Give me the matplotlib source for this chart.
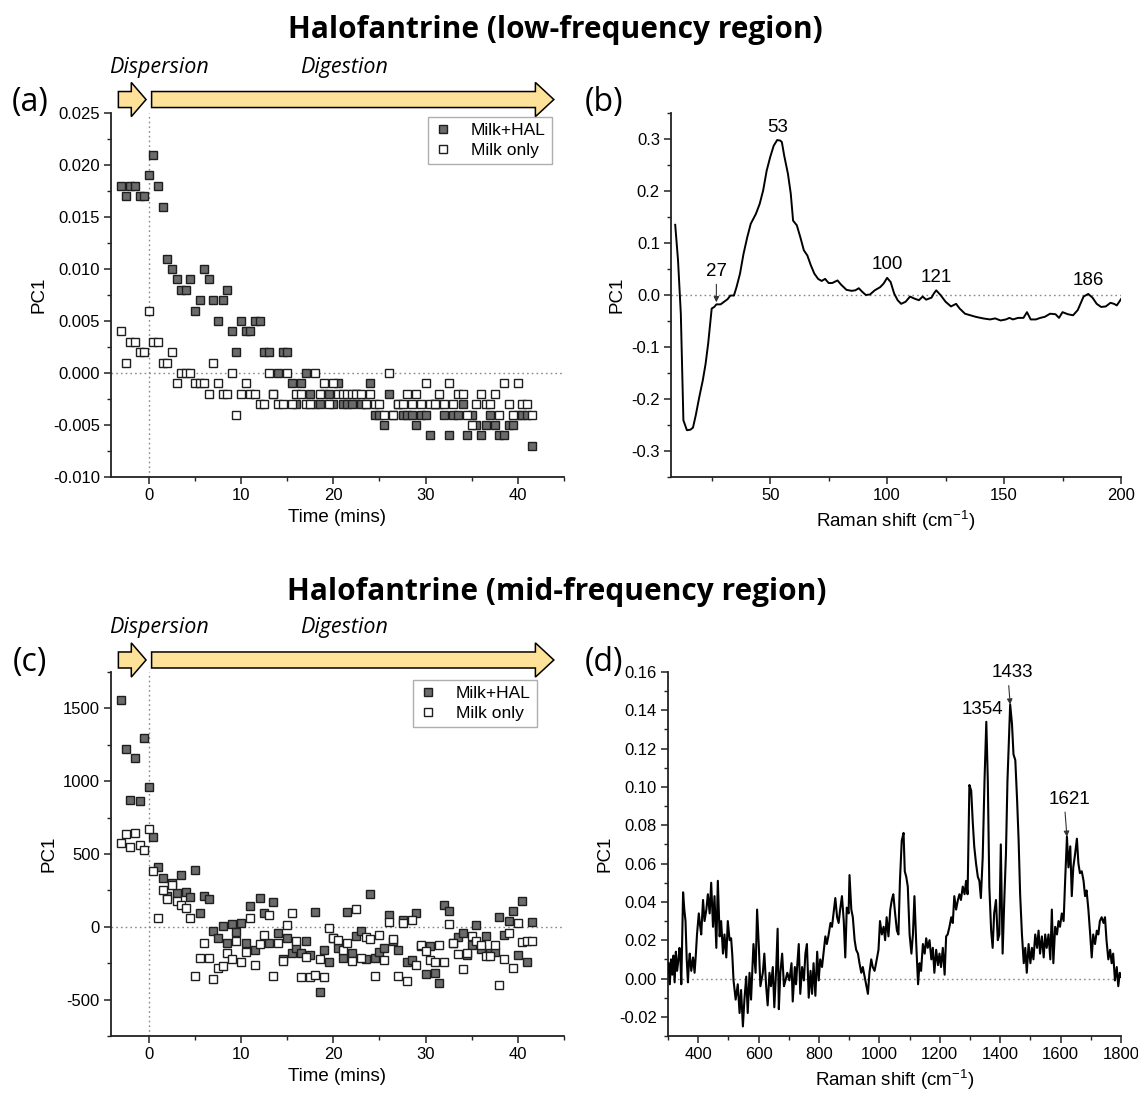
import numpy as np
import matplotlib
matplotlib.use("Agg")
import matplotlib.pyplot as plt
import matplotlib.transforms as mtransforms
from matplotlib.lines import Line2D
from matplotlib.patches import Polygon
from matplotlib.ticker import MultipleLocator, FormatStrFormatter

plt.rcParams['font.family'] = ['Liberation Sans', 'DejaVu Sans']
plt.rcParams['axes.unicode_minus'] = False
plt.rcParams['mathtext.default'] = 'regular'

# ---------------- scores vs time (one scan every 30 s) ----------------
time_min = np.arange(-3, 42, 0.5)

low_hal = [0.018, 0.017, 0.018, 0.018, 0.017, 0.017,
           0.019, 0.021, 0.018, 0.016, 0.011, 0.010, 0.009, 0.008, 0.008, 0.009,
           0.006, 0.007, 0.010, 0.009, 0.007, 0.005, 0.007, 0.008, 0.004, 0.002,
           0.005, 0.004, 0.004, 0.005, 0.005, 0.002, 0.002, -0.002, 0.000, 0.002,
           0.002, -0.001, -0.003, -0.001, 0.000, -0.002, -0.003, -0.003, -0.002, -0.002,
           -0.003, -0.001, -0.003, -0.003, -0.003, -0.002, -0.003, -0.003, -0.001, -0.004,
           -0.004, -0.005, -0.002, -0.004, -0.003, -0.004, -0.004, -0.004, -0.005, -0.004,
           -0.004, -0.006, -0.003, -0.003, -0.004, -0.006, -0.004, -0.004, -0.003, -0.006,
           -0.004, -0.005, -0.006, -0.005, -0.004, -0.005, -0.006, -0.006, -0.005, -0.005,
           -0.004, -0.004, -0.004, -0.007]
low_milk = [0.004, 0.001, 0.003, 0.003, 0.002, 0.002,
            0.006, 0.003, 0.003, 0.001, 0.001, 0.002, -0.001, 0.000, 0.000, 0.000,
            -0.001, -0.001, -0.001, -0.002, 0.001, -0.001, -0.002, -0.002, 0.000, -0.004,
            -0.002, -0.001, -0.002, -0.002, -0.003, -0.003, 0.000, -0.002, -0.003, -0.003,
            0.000, -0.003, -0.002, -0.002, -0.003, -0.003, 0.000, -0.002, -0.001, -0.003,
            -0.001, -0.002, -0.002, -0.002, -0.002, -0.002, -0.002, -0.003, -0.002, -0.003,
            -0.003, -0.004, 0.000, -0.004, -0.003, -0.003, -0.002, -0.003, -0.002, -0.003,
            -0.001, -0.003, -0.003, -0.002, -0.003, -0.001, -0.003, -0.002, -0.002, -0.004,
            -0.005, -0.003, -0.002, -0.003, -0.003, -0.002, -0.004, -0.001, -0.003, -0.004,
            -0.001, -0.003, -0.003, -0.004]

mid_hal = [1556, 1222, 870, 1156, 863, 1297,
           959, 620, 412, 334, 210, 304, 229, 359, 238, 206,
           389, 96, 210, 188, -30, -80, 5, -114, 18, -37,
           23, -110, 146, -162, 199, 96, -110, 169, -46, -220,
           -76, -179, -144, -179, -98, -197, 101, -446, -160, -240,
           -76, -144, -213, 101, -183, -64, -30, -224, 222, -213,
           -174, -144, 78, -98, -156, 50, -240, -229, 92, -130,
           -327, -133, -316, -389, 153, 108, -110, -69, -41, -197,
           -128, 9, -151, -64, -179, -170, 69, -53, 39, 108,
           -192, 176, -240, 32]
mid_milk = [577, 634, 547, 645, 565, 526,
            673, 382, 62, 256, 188, 288, 176, 153, 126, 62,
            -339, -213, -114, -213, -357, -281, -270, -179, -224, -98,
            -240, -172, 62, -259, -121, -53, 80, -339, -110, -236,
            9, 92, -98, -346, -206, -346, -334, -224, -346, -7,
            -76, -92, -156, -110, -236, 124, -213, -71, -82, -339,
            -53, -229, 32, -82, -339, 27, -373, 50, -259, -128,
            -167, -229, -240, -128, -240, 16, -110, -190, -293, -179,
            -60, -98, -128, -201, -201, -128, -400, -224, -46, -286,
            23, -105, -98, -98]

# ---------------- PC1 loadings ----------------
low_shift = [9.4, 10.6, 11.8, 12.9, 14.4, 15.9, 17.0, 18.2, 19.7, 21.2,
             22.4, 23.5, 25.0, 26.1, 27.0, 28.8, 30.3, 31.8, 33.0, 34.5,
             35.6, 37.1, 38.6, 40.2, 41.7, 43.9, 45.5, 47.0, 48.5, 50.0,
             51.5, 53.0, 54.3, 55.0, 56.0, 57.6, 58.8, 59.8, 61.4, 62.9,
             64.4, 65.9, 67.4, 68.9, 70.5, 72.0, 73.5, 75.0, 76.5, 78.8,
             80.3, 82.6, 84.8, 86.4, 87.9, 89.4, 90.9, 92.7, 94.7, 97.0,
             98.5, 100.0, 101.5, 103.0, 104.5, 106.0, 107.9, 109.8, 111.7, 113.6,
             115.2, 116.7, 119.0, 120.0, 121.0, 123.0, 125.0, 127.3, 129.5, 131.0,
             133.3, 135.6, 137.9, 141.0, 144.0, 146.2, 148.5, 150.8, 152.3, 153.8,
             156.0, 158.3, 159.8, 161.4, 163.6, 165.5, 167.4, 169.7, 172.0, 173.5,
             175.0, 177.3, 179.5, 181.5, 184.0, 186.0, 187.8, 189.6, 191.5, 193.5,
             195.5, 197.0, 198.2, 200.0]
low_pc1 = [0.135, 0.067, -0.036, -0.241, -0.260, -0.259, -0.255, -0.231, -0.196, -0.164,
           -0.132, -0.093, -0.026, -0.023, -0.018, -0.018, -0.013, -0.008, -0.001, -0.001,
           0.015, 0.041, 0.079, 0.111, 0.137, 0.156, 0.175, 0.201, 0.239, 0.265,
           0.287, 0.298, 0.297, 0.294, 0.268, 0.233, 0.195, 0.143, 0.134, 0.111,
           0.086, 0.076, 0.057, 0.041, 0.031, 0.027, 0.031, 0.023, 0.023, 0.028,
           0.020, 0.010, 0.008, 0.009, 0.013, 0.006, 0.000, 0.001, 0.009, 0.015,
           0.022, 0.033, 0.025, 0.003, -0.010, -0.017, -0.013, -0.003, -0.007, -0.010,
           -0.003, -0.009, -0.005, 0.003, 0.009, -0.001, -0.013, -0.022, -0.017, -0.026,
           -0.036, -0.039, -0.042, -0.045, -0.047, -0.045, -0.049, -0.047, -0.044, -0.047,
           -0.044, -0.044, -0.033, -0.047, -0.047, -0.044, -0.042, -0.036, -0.037, -0.044,
           -0.033, -0.037, -0.039, -0.029, -0.003, 0.002, -0.005, -0.017, -0.023, -0.022,
           -0.015, -0.017, -0.020, -0.008]
low_peaks = [27, 53, 100, 121, 186]

mid_shift = [302, 306, 310, 314, 318, 322, 326, 330, 334, 338,
             341, 344, 347, 350, 354, 358, 362, 366, 369, 372,
             377, 383, 388, 392, 396, 402, 406, 410, 416, 421,
             427, 432, 438, 443, 449, 454, 460, 465, 471, 476,
             482, 487, 493, 498, 504, 509, 513, 517, 524, 531,
             537, 542, 548, 553, 559, 564, 570, 575, 579, 583,
             590, 595, 601, 606, 614, 619, 625, 630, 636, 641,
             647, 652, 658, 663, 667, 672, 678, 684, 689, 695,
             702, 709, 713, 720, 724, 728, 733, 738, 744, 750,
             755, 760, 766, 772, 777, 782, 788, 794, 799, 804,
             810, 816, 821, 826, 832, 838, 843, 848, 854, 860,
             865, 870, 876, 882, 887, 892, 898, 901, 907, 912,
             918, 923, 929, 934, 940, 945, 951, 956, 962, 967,
             973, 978, 984, 989, 997, 1002, 1008, 1014, 1019, 1024,
             1030, 1036, 1041, 1046, 1052, 1058, 1063, 1068, 1074, 1080,
             1084, 1089, 1094, 1100, 1106, 1111, 1116, 1122, 1128, 1133,
             1138, 1144, 1150, 1155, 1160, 1166, 1172, 1177, 1182, 1188,
             1194, 1199, 1204, 1210, 1216, 1221, 1226, 1232, 1238, 1243,
             1248, 1254, 1260, 1265, 1270, 1276, 1282, 1287, 1292, 1298,
             1304, 1309, 1314, 1320, 1326, 1331, 1336, 1342, 1348, 1354,
             1359, 1364, 1370, 1375, 1380, 1386, 1392, 1397, 1402, 1408,
             1414, 1419, 1424, 1428, 1433, 1439, 1444, 1450, 1456, 1461,
             1466, 1472, 1478, 1483, 1488, 1494, 1500, 1505, 1510, 1516,
             1522, 1527, 1532, 1538, 1544, 1549, 1554, 1560, 1566, 1571,
             1576, 1582, 1588, 1593, 1598, 1604, 1610, 1615, 1621, 1626,
             1632, 1637, 1642, 1648, 1654, 1659, 1664, 1670, 1676, 1681,
             1686, 1692, 1698, 1703, 1708, 1714, 1720, 1725, 1730, 1736,
             1742, 1747, 1752, 1758, 1764, 1769, 1774, 1780, 1786, 1791,
             1796, 1800]
mid_pc1 = [0.008, -0.003, 0.010, 0.002, 0.012, -0.002, 0.014, 0.004, 0.009, 0.016,
           0.011, -0.003, 0.020, 0.045, 0.036, 0.030, 0.010, -0.002, 0.008, 0.013,
           0.004, 0.011, 0.003, 0.012, 0.023, 0.034, 0.028, 0.023, 0.041, 0.030,
           0.036, 0.044, 0.034, 0.050, 0.027, 0.043, 0.016, 0.051, 0.022, 0.030,
           0.013, 0.023, 0.011, 0.030, 0.020, 0.021, 0.012, -0.001, -0.011, -0.003,
           -0.018, -0.006, -0.025, -0.011, 0.001, -0.018, 0.003, -0.011, 0.004, 0.018,
           0.003, 0.036, 0.016, -0.004, 0.003, 0.013, -0.004, -0.014, 0.003, -0.004,
           0.006, -0.015, 0.004, 0.026, -0.016, 0.003, 0.013, -0.004, -0.001, 0.003,
           -0.001, 0.008, -0.012, 0.006, -0.003, 0.007, 0.018, -0.008, 0.006, -0.001,
           0.013, 0.018, -0.010, 0.004, -0.008, 0.008, -0.009, 0.014, -0.001, 0.010,
           0.006, 0.015, 0.022, 0.018, 0.023, 0.029, 0.027, 0.034, 0.042, 0.032,
           0.029, 0.036, 0.043, 0.030, 0.011, 0.037, 0.034, 0.054, 0.036, 0.032,
           0.020, 0.015, 0.013, 0.008, 0.003, 0.006, 0.001, -0.003, -0.008, 0.003,
           0.010, 0.006, 0.004, 0.008, 0.015, 0.030, 0.023, 0.027, 0.020, 0.032,
           0.022, 0.036, 0.041, 0.044, 0.034, 0.025, 0.023, 0.051, 0.072, 0.076,
           0.056, 0.053, 0.048, 0.023, 0.013, 0.023, 0.043, 0.018, -0.003, 0.008,
           0.004, 0.018, 0.013, 0.021, 0.016, 0.020, 0.010, 0.016, 0.003, 0.015,
           0.007, 0.013, 0.006, 0.016, 0.002, 0.022, 0.023, 0.027, 0.032, 0.029,
           0.043, 0.036, 0.041, 0.044, 0.041, 0.048, 0.044, 0.051, 0.044, 0.101,
           0.098, 0.082, 0.069, 0.060, 0.053, 0.051, 0.042, 0.063, 0.103, 0.134,
           0.103, 0.048, 0.025, 0.016, 0.034, 0.041, 0.020, 0.023, 0.070, 0.013,
           0.043, 0.065, 0.103, 0.121, 0.143, 0.133, 0.117, 0.114, 0.093, 0.072,
           0.044, 0.023, 0.008, 0.016, 0.003, 0.018, 0.008, 0.016, 0.010, 0.023,
           0.016, 0.025, 0.013, 0.022, 0.011, 0.023, 0.016, 0.023, 0.010, 0.036,
           0.008, 0.027, 0.023, 0.030, 0.027, 0.034, 0.030, 0.051, 0.074, 0.058,
           0.069, 0.043, 0.058, 0.065, 0.073, 0.060, 0.055, 0.056, 0.051, 0.043,
           0.046, 0.036, 0.023, 0.011, 0.023, 0.018, 0.025, 0.023, 0.030, 0.032,
           0.029, 0.032, 0.020, 0.010, 0.015, 0.008, 0.013, -0.001, 0.006, -0.004,
           0.003, 0.001]
mid_peaks = [1354, 1433, 1621]

HAL_FACE = '#6b6b6b'
EDGE = '#1e1e1e'
ARROW_FILL = '#ffe29a'
DOT = (0, (1.2, 2.2))

W, H = 1138, 1095
fig = plt.figure(figsize=(W / 100, H / 100), dpi=100)


def box(left, top, right, bottom):
    return [left / W, 1 - bottom / H, (right - left) / W, (bottom - top) / H]


def style(ax, xmaj, xmin, ymaj, ymin, yfmt):
    for s in ('top', 'right'):
        ax.spines[s].set_visible(False)
    for s in ('left', 'bottom'):
        ax.spines[s].set_linewidth(1.3)
        ax.spines[s].set_color('#222222')
    ax.xaxis.set_major_locator(MultipleLocator(xmaj))
    ax.xaxis.set_minor_locator(MultipleLocator(xmin))
    ax.yaxis.set_major_locator(MultipleLocator(ymaj))
    ax.yaxis.set_minor_locator(MultipleLocator(ymin))
    ax.yaxis.set_major_formatter(FormatStrFormatter(yfmt))
    ax.tick_params(which='major', direction='out', length=5, width=1.1,
                   labelsize=12, color='#222222', pad=3)
    ax.tick_params(which='minor', direction='out', length=3, width=1.0,
                   color='#222222')
    ax.axhline(0, color='#8a8a8a', lw=1.0, ls=DOT, zorder=0)


def phase_arrow(ax, x0, x1, head, yc, body_h, head_h):
    # block arrow: x in data units, y in axes fraction
    tr = mtransforms.blended_transform_factory(ax.transData, ax.transAxes)
    xh = x1 - head
    pts = [(x0, yc - body_h), (xh, yc - body_h), (xh, yc - head_h), (x1, yc),
           (xh, yc + head_h), (xh, yc + body_h), (x0, yc + body_h)]
    ax.add_patch(Polygon(pts, closed=True, transform=tr, clip_on=False,
                         facecolor=ARROW_FILL, edgecolor='black', lw=1.1, zorder=5))


def time_panel(ax, hal, milk, ylim, ymaj, ymin, yfmt, yc, legend_at):
    ax.set_xlim(-4.1, 45)
    ax.set_ylim(*ylim)
    style(ax, 10, 5, ymaj, ymin, yfmt)
    ax.xaxis.set_major_formatter(FormatStrFormatter('%d'))
    ax.axvline(0, color='#8a8a8a', lw=1.0, ls=DOT, zorder=0)
    ax.plot(time_min, hal, 's', ms=5.8, mfc=HAL_FACE, mec=EDGE, mew=1.0,
            ls='none', zorder=3)
    ax.plot(time_min, milk, 's', ms=5.8, mfc='white', mec=EDGE, mew=1.0,
            ls='none', zorder=3)
    ax.set_xlabel('Time (mins)', fontsize=13.5)
    ax.set_ylabel('PC1', fontsize=13.5)
    handles = [Line2D([], [], marker='s', ls='none', ms=5.8, mfc=HAL_FACE,
                      mec=EDGE, mew=1.0),
               Line2D([], [], marker='s', ls='none', ms=5.8, mfc='white',
                      mec=EDGE, mew=1.0)]
    leg = ax.legend(handles, ['Milk+HAL', 'Milk only'], loc='upper right',
                    bbox_to_anchor=legend_at, fontsize=12.5, frameon=True,
                    fancybox=False, borderpad=0.35, handlelength=1.0,
                    handletextpad=1.1, labelspacing=0.25, borderaxespad=0)
    leg.get_frame().set_edgecolor('#9a9a9a')
    leg.get_frame().set_linewidth(1.0)
    phase_arrow(ax, -3.3, -0.3, 1.6, yc, 0.022, 0.047)
    phase_arrow(ax, 0.3, 43.9, 2.0, yc, 0.022, 0.047)
    ax.text(-4.3, yc + 0.088, 'Dispersion', transform=ax.get_xaxis_transform(),
            fontsize=15.5, style='italic', family='Open Sans', ha='left',
            va='center', clip_on=False)
    ax.text(16.4, yc + 0.088, 'Digestion', transform=ax.get_xaxis_transform(),
            fontsize=15.5, style='italic', family='Open Sans', ha='left',
            va='center', clip_on=False)


def spectrum_panel(ax, shift, pc1, xlim, ylim, xmaj, xmin, ymaj, ymin, yfmt, lw):
    ax.set_xlim(*xlim)
    ax.set_ylim(*ylim)
    style(ax, xmaj, xmin, ymaj, ymin, yfmt)
    ax.xaxis.set_major_formatter(FormatStrFormatter('%d'))
    ax.plot(shift, pc1, color='black', lw=lw, zorder=3)
    ax.set_xlabel('Raman shift (cm$^{-1}$)', fontsize=13.5)
    ax.set_ylabel('PC1', fontsize=13.5)


# (a) low-frequency scores
ax_a = fig.add_axes(box(111, 113, 564, 477))
time_panel(ax_a, low_hal, low_milk, (-0.010, 0.025), 0.005, 0.0025, '%.3f',
           1.037, (0.973, 0.989))

# (b) low-frequency loading
ax_b = fig.add_axes(box(671, 113, 1121, 477))
spectrum_panel(ax_b, low_shift, low_pc1, (7.6, 200), (-0.35, 0.35),
               50, 25, 0.1, 0.05, '%.1f', 1.4)
label_y = {27: 0.045, 53: 0.322, 100: 0.058, 121: 0.034, 186: 0.028}
for p in low_peaks:
    if p == 27:
        ax_b.annotate(str(p), xy=(p, np.interp(p, low_shift, low_pc1) + 0.004),
                      xytext=(p, label_y[p]), ha='center', va='center',
                      fontsize=13.5,
                      arrowprops=dict(arrowstyle='-|>', color='#333333',
                                      lw=0.8, mutation_scale=8, shrinkA=1,
                                      shrinkB=0))
    else:
        ax_b.text(p, label_y[p], str(p), ha='center', va='center', fontsize=13.5)

# (c) mid-frequency scores
ax_c = fig.add_axes(box(111, 672, 564, 1036))
time_panel(ax_c, mid_hal, mid_milk, (-750, 1750), 500, 250, '%d',
           1.033, (0.940, 0.978))

# (d) mid-frequency loading
ax_d = fig.add_axes(box(668, 672, 1121, 1036))
spectrum_panel(ax_d, mid_shift, mid_pc1, (300, 1800), (-0.03, 0.16),
               200, 100, 0.02, 0.01, '%.2f', 1.5)
ax_d.text(1340, 0.1405, '1354', ha='center', va='center', fontsize=13.5)
for p, ty in ((1433, 0.1595), (1621, 0.0935)):
    tx = p + (10 if p == 1621 else 8)
    ax_d.annotate(str(p), xy=(p, np.interp(p, mid_shift, mid_pc1)),
                  xytext=(tx, ty), ha='center', va='center', fontsize=13.5,
                  arrowprops=dict(arrowstyle='-|>', color='#333333', lw=0.8,
                                  mutation_scale=8, shrinkA=1, shrinkB=0,
                                  relpos=((p - tx) / 80 + 0.5, 0)))

# titles and panel letters
fig.text(555 / W, 1 - 30 / H, 'Halofantrine (low-frequency region)',
         family='Open Sans', weight='bold', fontsize=21.5, ha='center', va='center')
fig.text(557 / W, 1 - 592 / H, 'Halofantrine (mid-frequency region)',
         family='Open Sans', weight='bold', fontsize=21.5, ha='center', va='center')
for letter, x, y in (('(a)', 30, 102), ('(b)', 604, 102),
                     ('(c)', 30, 662), ('(d)', 604, 662)):
    fig.text(x / W, 1 - y / H, letter, family='Open Sans', fontsize=23,
             ha='center', va='center')

fig.savefig('out.png', dpi=100)
